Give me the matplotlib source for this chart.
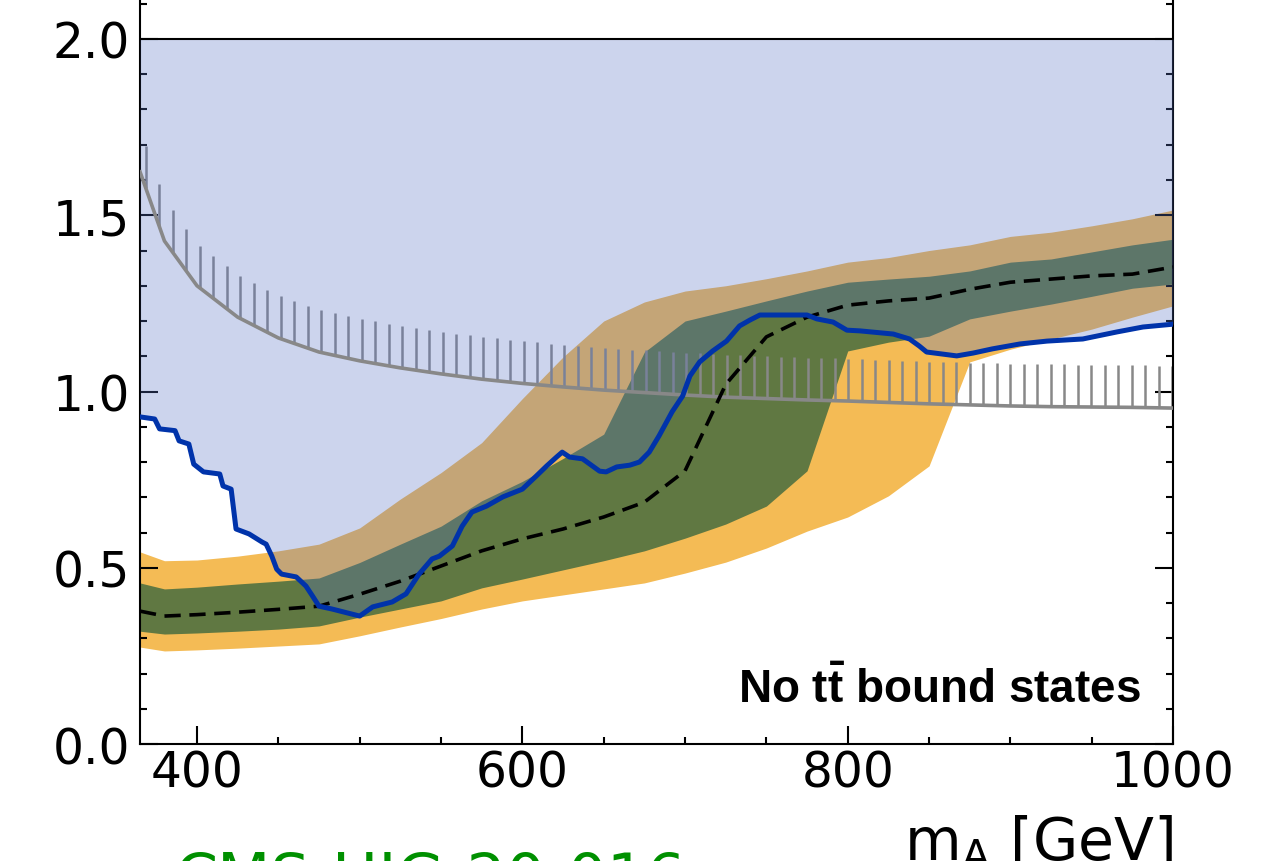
import numpy as np
import matplotlib
matplotlib.use("Agg")
import matplotlib.pyplot as plt
from matplotlib.ticker import MultipleLocator

plt.rcParams["font.family"] = ["DejaVu Sans"]
plt.rcParams["mathtext.fontset"] = "custom"
plt.rcParams["mathtext.rm"] = "DejaVu Sans"
plt.rcParams["mathtext.it"] = "DejaVu Sans:italic"
plt.rcParams["mathtext.bf"] = "Liberation Sans:bold"

# Mass grid of the expected limits [GeV]
mass = [365, 380, 400, 425, 450, 475, 500, 525, 550, 575, 600, 625, 650, 675,
        700, 725, 750, 775, 800, 825, 850, 875, 900, 925, 950, 975, 1000]

# Expected limit: median and 68% / 95% bands
exp_median = [0.377, 0.363, 0.367, 0.374, 0.382, 0.391, 0.425, 0.462, 0.505,
              0.548, 0.582, 0.61, 0.644, 0.686, 0.775, 1.02, 1.155, 1.211,
              1.245, 1.257, 1.265, 1.29, 1.31, 1.319, 1.328, 1.333, 1.353]
exp_minus1 = [0.32, 0.312, 0.315, 0.32, 0.326, 0.335, 0.36, 0.383, 0.406,
              0.443, 0.468, 0.494, 0.52, 0.548, 0.584, 0.624, 0.675, 0.775,
              1.115, 1.14, 1.157, 1.206, 1.228, 1.248, 1.27, 1.293, 1.305]
exp_plus1 = [0.457, 0.44, 0.445, 0.454, 0.462, 0.471, 0.515, 0.567, 0.618,
             0.69, 0.745, 0.81, 0.879, 1.112, 1.2, 1.228, 1.257, 1.285,
             1.31, 1.319, 1.327, 1.342, 1.367, 1.376, 1.396, 1.416, 1.432]
exp_minus2 = [0.275, 0.264, 0.267, 0.272, 0.278, 0.284, 0.307, 0.332, 0.356,
              0.383, 0.406, 0.423, 0.44, 0.457, 0.485, 0.516, 0.556, 0.604,
              0.644, 0.704, 0.789, 1.084, 1.12, 1.149, 1.177, 1.211, 1.243]
exp_plus2 = [0.545, 0.52, 0.522, 0.533, 0.548, 0.567, 0.613, 0.695, 0.77,
             0.855, 0.98, 1.098, 1.2, 1.254, 1.285, 1.30, 1.32, 1.342,
             1.367, 1.38, 1.40, 1.416, 1.44, 1.452, 1.47, 1.49, 1.515]

# Theory boundary (hatched grey line)
bound = [1.623, 1.427, 1.30, 1.211, 1.152, 1.112, 1.087, 1.067, 1.05, 1.035,
         1.023, 1.013, 1.004, 0.997, 0.99, 0.984, 0.98, 0.976, 0.973, 0.969,
         0.965, 0.962, 0.959, 0.957, 0.956, 0.955, 0.953]

# Observed limit
obs_mass = [365, 374, 377, 386.5, 389, 395, 398, 404, 414, 416, 421, 424, 432,
            440, 442.5, 446, 449, 452, 461, 467, 471, 475, 483, 500, 508, 520,
            528.5, 536.5, 544.5, 549, 557, 563, 569, 578, 588, 600, 608.5, 615,
            621, 624.5, 629, 637, 647.5, 651.5, 658, 666, 672, 678, 684, 692,
            698.5, 703, 709, 717, 725.5, 733.5, 740, 746, 775, 781, 791, 799.5,
            807.5, 828, 838, 844, 848.5, 867, 877, 889, 906, 922.5, 944.5,
            965.5, 981.5, 1000]
obs_limit = [0.928, 0.922, 0.894, 0.889, 0.86, 0.851, 0.794, 0.772, 0.766,
             0.732, 0.723, 0.61, 0.596, 0.573, 0.567, 0.533, 0.496, 0.482,
             0.474, 0.448, 0.42, 0.391, 0.383, 0.363, 0.389, 0.403, 0.426,
             0.482, 0.525, 0.533, 0.562, 0.618, 0.658, 0.675, 0.701, 0.723,
             0.76, 0.789, 0.814, 0.828, 0.814, 0.809, 0.774, 0.772, 0.786,
             0.791, 0.80, 0.828, 0.874, 0.942, 0.987, 1.044, 1.084, 1.115,
             1.143, 1.186, 1.203, 1.217, 1.217, 1.206, 1.197, 1.174, 1.172,
             1.163, 1.149, 1.129, 1.112, 1.101, 1.109, 1.121, 1.135, 1.143,
             1.149, 1.169, 1.183, 1.191]

Y_TOP = 2.0

fig = plt.figure(figsize=(12.86, 8.62), dpi=100)
ax = fig.add_axes([0.1089, 0.1357, 0.8033, 0.8997])

ax.fill_between(mass, exp_minus2, exp_plus2, color="#f4bb55", lw=0, zorder=1)
ax.fill_between(mass, exp_minus1, exp_plus1, color="#607842", lw=0, zorder=2)

# hatching on the excluded side of the theory boundary
hatch_x = np.linspace(368.5, 999.5, 77)
hatch_base = np.interp(hatch_x, mass, bound)
ax.vlines(hatch_x, hatch_base, hatch_base + 0.12, color="#888888", lw=1.8,
          zorder=2.5)

# observed exclusion region
ax.fill_between(obs_mass, obs_limit, Y_TOP, color="#5873c6", alpha=0.3,
                lw=0, zorder=3)
ax.axhline(Y_TOP, color="black", lw=1.5, zorder=3.5)

ax.plot(mass, bound, color="#888888", lw=2.6, zorder=4)
ax.plot(mass, exp_median, color="black", lw=2.6, dashes=(4.5, 2.4), zorder=5)
ax.plot(obs_mass, obs_limit, color="#0033aa", lw=3.6, zorder=6)

ax.set_xlim(365, 1000)
ax.set_ylim(0, 2.2)
ax.xaxis.set_major_locator(MultipleLocator(200))
ax.xaxis.set_minor_locator(MultipleLocator(50))
ax.yaxis.set_major_locator(MultipleLocator(0.5))
ax.yaxis.set_minor_locator(MultipleLocator(0.1))
ax.tick_params(which="both", direction="in", top=True, right=True, width=1.5,
               labelsize=35)
ax.tick_params(which="major", length=13)
ax.tick_params(which="minor", length=5)
ax.tick_params(axis="x", pad=3)
ax.tick_params(axis="y", pad=7)
for s in ax.spines.values():
    s.set_linewidth(1.5)

ax.set_xlabel(r"$\mathrm{m_A}$ [GeV]", fontsize=42, loc="right", labelpad=12)

ax.text(980, 0.119, r"No $\mathbf{t\bar{t}}$ bound states", ha="right",
        va="baseline", fontsize=33, fontfamily="Liberation Sans",
        fontweight="bold", zorder=7)

fig.text(175 / 1286, -0.042, "CMS-HIG-20-016", color="#009000", fontsize=44.5,
         va="baseline", ha="left")

fig.savefig("out.png", dpi=100)
